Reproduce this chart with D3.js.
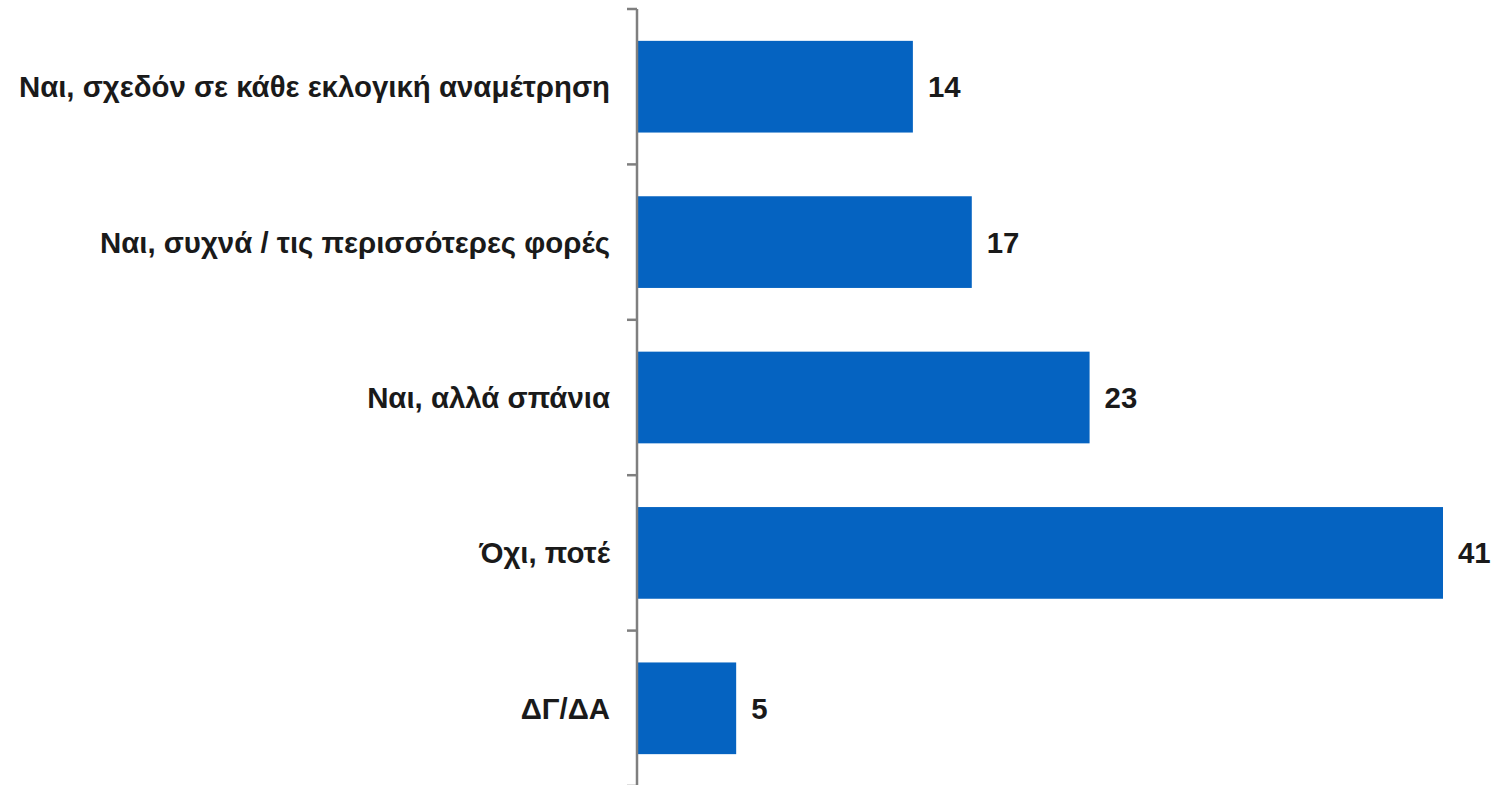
<!DOCTYPE html>
<html><head><meta charset="utf-8">
<script src="https://cdn.jsdelivr.net/npm/d3@7"></script>
<style>body{margin:0;background:#fff}</style>
</head><body>
<svg id="c" width="1496" height="785"></svg>
<script>
const categories = ["Ναι, σχεδόν σε κάθε εκλογική αναμέτρηση","Ναι, συχνά / τις περισσότερες φορές","Ναι, αλλά σπάνια","Όχι, ποτέ","ΔΓ/ΔΑ"];
const values = [14,17,23,41,5];

const svg = d3.select("#c");
const axisX = 637;
const x = d3.scaleLinear().domain([0,41]).range([axisX+1, 1443]);
const y = d3.scaleBand().domain(categories).range([9, 786]).paddingInner(0.41).paddingOuter(0.205);

svg.selectAll("rect").data(values).join("rect")
  .attr("x", x(0)).attr("y",(d,i)=>y(categories[i]))
  .attr("width", d=>x(d)-x(0)).attr("height", y.bandwidth())
  .attr("fill","#0563C1");

const step = y.step();
const tickYs = d3.range(categories.length+1).map(i=>9+i*step);
svg.append("line").attr("x1",axisX).attr("x2",axisX).attr("y1",9).attr("y2",786)
  .attr("stroke","#7f7f7f").attr("stroke-width",2.5);
svg.selectAll("line.t").data(tickYs).join("line").attr("class","t")
  .attr("x1",axisX-10).attr("x2",axisX).attr("y1",d=>d).attr("y2",d=>d)
  .attr("stroke","#7f7f7f").attr("stroke-width",2.5);

svg.selectAll("text.cat").data(categories).join("text").attr("class","cat")
  .attr("x", 610).attr("y", d=>y(d)+y.bandwidth()/2)
  .attr("text-anchor","end").attr("dominant-baseline","central")
  .attr("font-family","Liberation Sans, Arial, sans-serif").attr("font-weight","bold")
  .attr("font-size",29.4).attr("fill","#1a1a1a").text(d=>d);

svg.selectAll("text.val").data(values).join("text").attr("class","val")
  .attr("x", d=>x(d)+15).attr("y",(d,i)=>y(categories[i])+y.bandwidth()/2)
  .attr("dominant-baseline","central")
  .attr("font-family","Liberation Sans, Arial, sans-serif").attr("font-weight","bold")
  .attr("font-size",29.4).attr("fill","#1a1a1a").text(d=>d);
</script>
</body></html>
